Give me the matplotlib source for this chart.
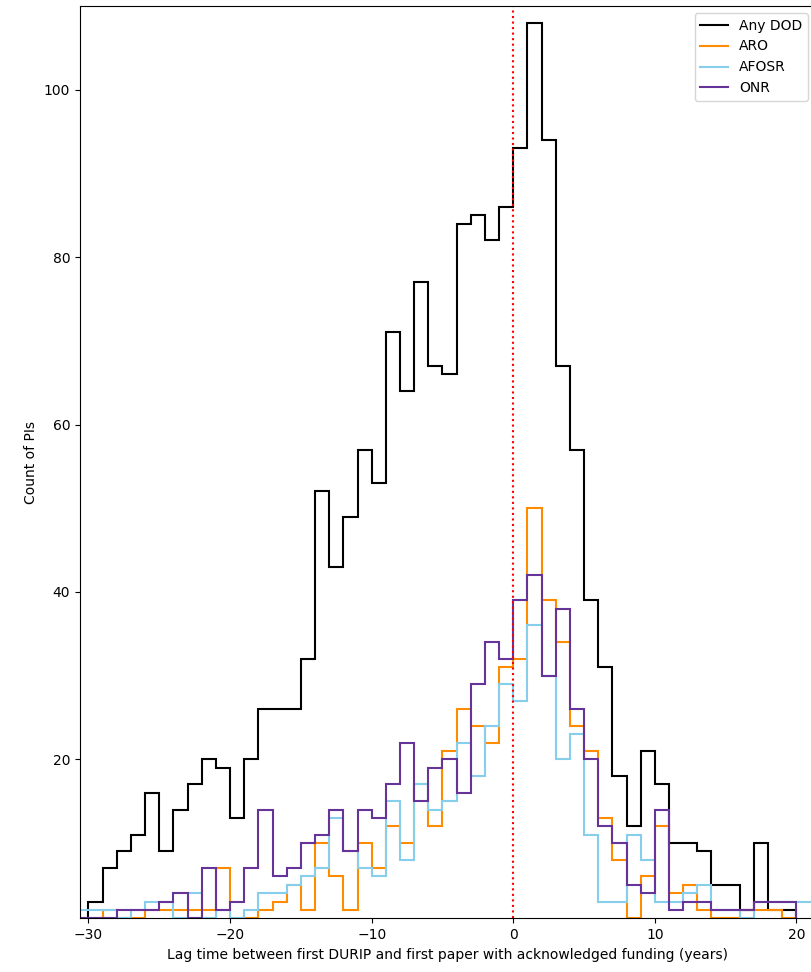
import numpy as np
import matplotlib
matplotlib.use("Agg")
import matplotlib.pyplot as plt

# bin edges: one-year bins from -31 to 22
edges = np.arange(-31, 23)

# counts per bin, first bin is [-31, -30)
any_dod = [0,
           3, 7, 9, 11, 16, 9, 14, 17, 20, 19,
           13, 20, 26, 26, 26, 32, 52, 43, 49, 57,
           53, 71, 64, 77, 67, 66, 84, 85, 82, 86,
           93, 108, 94, 67, 57, 39, 31, 18, 12, 21,
           17, 10, 10, 9, 5, 5, 2, 10, 2, 2,
           0, 0]
aro = [1,
       1, 2, 1, 1, 2, 2, 2, 2, 2, 7,
       1, 1, 2, 3, 5, 2, 10, 6, 2, 10,
       7, 12, 10, 17, 12, 21, 26, 24, 22, 31,
       32, 50, 39, 34, 24, 21, 13, 8, 1, 6,
       12, 4, 5, 2, 1, 1, 2, 2, 2, 1,
       0, 0]
afosr = [2,
         2, 2, 1, 2, 3, 3, 1, 4, 1, 2,
         1, 2, 4, 4, 5, 6, 7, 13, 9, 7,
         6, 15, 8, 17, 14, 15, 22, 18, 24, 29,
         27, 36, 30, 20, 23, 11, 3, 3, 11, 8,
         3, 3, 4, 5, 2, 2, 1, 3, 3, 3,
         3, 3]
onr = [1,
       1, 1, 2, 2, 2, 3, 4, 1, 7, 2,
       3, 7, 14, 6, 7, 10, 11, 14, 9, 14,
       13, 17, 22, 15, 19, 20, 16, 29, 34, 32,
       39, 42, 30, 38, 26, 20, 12, 10, 5, 4,
       14, 2, 3, 3, 2, 2, 2, 3, 3, 3,
       0, 0]

series = [("Any DOD", any_dod, "black"),
          ("ARO", aro, "darkorange"),
          ("AFOSR", afosr, "skyblue"),
          ("ONR", onr, "rebeccapurple")]

fig = plt.figure(figsize=(8.12, 9.72), dpi=100)
ax = fig.add_axes([0.0985, 0.0552, 0.905, 0.9386])

for name, vals, col in series:
    ax.stairs(vals, edges, baseline=0, color=col, linewidth=1.5, label=name)

ax.axvline(0, color="red", linestyle=":", linewidth=1.5)

ax.set_xlim(-30.6, 21.3)
ax.set_ylim(1, 110)
ax.set_xlabel("Lag time between first DURIP and first paper with acknowledged funding (years)")
ax.set_ylabel("Count of PIs")
ax.legend(loc="upper right")

fig.savefig("out.png", dpi=100)
